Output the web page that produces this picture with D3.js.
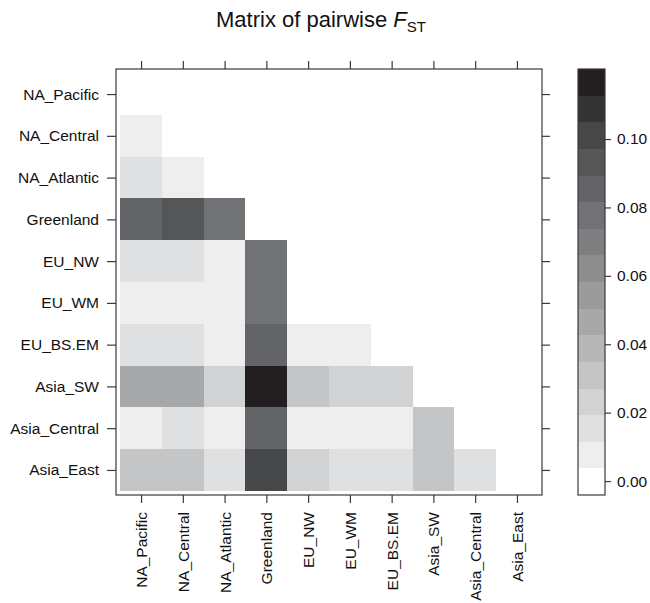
<!DOCTYPE html>
<html>
<head>
<meta charset="utf-8">
<script src="https://cdn.jsdelivr.net/npm/d3@7"></script>
<style>
  html, body { margin: 0; padding: 0; background: #fff; }
  svg { display: block; font-family: "Liberation Sans", Arial, Helvetica, sans-serif; }
</style>
</head>
<body>
<svg id="chart" width="650" height="603"></svg>
<script>
// Populations, in the order used for both axes
const populations = ["NA_Pacific", "NA_Central", "NA_Atlantic", "Greenland", "EU_NW",
                     "EU_WM", "EU_BS.EM", "Asia_SW", "Asia_Central", "Asia_East"];

// Lower triangle of pairwise FST: row i holds the values against populations 0..i-1
const fstNAPacific   = [];
const fstNACentral   = [0.007];
const fstNAAtlantic  = [0.015, 0.008];
const fstGreenland   = [0.085, 0.093, 0.077];
const fstEUNW        = [0.016, 0.015, 0.006, 0.078];
const fstEUWM        = [0.008, 0.007, 0.005, 0.077, 0.000];
const fstEUBSEM      = [0.014, 0.015, 0.007, 0.086, 0.006, 0.007];
const fstAsiaSW      = [0.046, 0.047, 0.023, 0.1164, 0.031, 0.024, 0.024];
const fstAsiaCentral = [0.008, 0.016, 0.007, 0.084, 0.006, 0.007, 0.008, 0.030];
const fstAsiaEast    = [0.030, 0.031, 0.016, 0.100, 0.023, 0.017, 0.016, 0.031, 0.015];
const fstRows = [fstNAPacific, fstNACentral, fstNAAtlantic, fstGreenland, fstEUNW,
                 fstEUWM, fstEUBSEM, fstAsiaSW, fstAsiaCentral, fstAsiaEast];

// Colour key tick labels
const keyTicks = [0.00, 0.02, 0.04, 0.06, 0.08, 0.10];

// Grey ramp, one shade per interval of the key (light to dark)
const shades = ["#ffffff", "#eeeeef", "#dfe0e2", "#d1d2d4", "#c4c5c7", "#b6b7b9",
                "#a7a8aa", "#9a9b9d", "#8c8d8f", "#7e7f81", "#717275", "#636467",
                "#555658", "#464749", "#343435", "#231f20"];

// Flatten the triangle into cells
const cells = [];
fstRows.forEach((row, i) => row.forEach((v, j) => cells.push({ row: i, col: j, value: v })));

// Breaks: data range padded slightly on each side, cut into equal intervals
const ext = d3.extent(cells, d => d.value);
const padZ = (ext[1] - ext[0]) * 0.035;
const zLo = ext[0] - padZ, zHi = ext[1] + padZ;
const nBands = shades.length;
const breaks = d3.range(nBands + 1).map(k => zLo + (zHi - zLo) * k / nBands);
const colour = d3.scaleThreshold().domain(breaks.slice(1, -1)).range(shades);

const svg = d3.select("#chart");
const font = 15.5;

// Panel geometry
const panel = { left: 116, right: 542, top: 69, bottom: 495 };
const n = populations.length;
const x = d3.scaleLinear().domain([0.4, n + 0.6]).range([panel.left, panel.right]);
const y = d3.scaleLinear().domain([0.4, n + 0.6]).range([panel.top, panel.bottom]);

// Cells
svg.append("g").selectAll("rect").data(cells).join("rect")
  .attr("x", d => x(d.col + 0.5))
  .attr("y", d => y(d.row + 0.5))
  .attr("width", d => x(d.col + 1.5) - x(d.col + 0.5))
  .attr("height", d => y(d.row + 1.5) - y(d.row + 0.5))
  .attr("fill", d => colour(d.value))
  .attr("shape-rendering", "crispEdges");

// Axes on all four sides
const tickVals = d3.range(1, n + 1);
const axisColour = "#3a3a3a";
function styleAxis(g) {
  g.selectAll(".domain").remove();
  g.selectAll(".tick line").attr("stroke", axisColour).attr("stroke-width", 1.2);
  g.selectAll("text").attr("fill", "#111").style("font-size", font + "px");
}

svg.append("g").attr("transform", `translate(${panel.left},0)`)
  .call(d3.axisLeft(y).tickValues(tickVals).tickFormat(i => populations[i - 1]).tickSize(9).tickPadding(8))
  .call(styleAxis);

svg.append("g").attr("transform", `translate(${panel.right},0)`)
  .call(d3.axisRight(y).tickValues(tickVals).tickFormat("").tickSize(8))
  .call(styleAxis);

svg.append("g").attr("transform", `translate(0,${panel.top})`)
  .call(d3.axisTop(x).tickValues(tickVals).tickFormat("").tickSize(8))
  .call(styleAxis);

const bottomAxis = svg.append("g").attr("transform", `translate(0,${panel.bottom})`)
  .call(d3.axisBottom(x).tickValues(tickVals).tickFormat(i => populations[i - 1]).tickSize(8))
  .call(styleAxis);
bottomAxis.selectAll("text")
  .attr("transform", "rotate(-90)")
  .attr("text-anchor", "end")
  .attr("x", -17)
  .attr("y", 0)
  .attr("dy", "0.35em");

// Panel frame
svg.append("rect")
  .attr("x", panel.left).attr("y", panel.top)
  .attr("width", panel.right - panel.left).attr("height", panel.bottom - panel.top)
  .attr("fill", "none").attr("stroke", axisColour).attr("stroke-width", 1.2);

// Colour key
const key = { left: 578, right: 605, top: 69, bottom: 495 };
const z = d3.scaleLinear().domain([zLo, zHi]).range([key.bottom, key.top]);
svg.append("g").selectAll("rect").data(d3.range(nBands)).join("rect")
  .attr("x", key.left)
  .attr("width", key.right - key.left)
  .attr("y", k => z(breaks[k + 1]))
  .attr("height", k => z(breaks[k]) - z(breaks[k + 1]))
  .attr("fill", k => shades[k])
  .attr("shape-rendering", "crispEdges");
svg.append("rect")
  .attr("x", key.left).attr("y", key.top)
  .attr("width", key.right - key.left).attr("height", key.bottom - key.top)
  .attr("fill", "none").attr("stroke", axisColour).attr("stroke-width", 1.2);
svg.append("g").attr("transform", `translate(${key.right},0)`)
  .call(d3.axisRight(z).tickValues(keyTicks).tickFormat(d3.format(".2f")).tickSize(6).tickPadding(6))
  .call(styleAxis);

// Title
const title = svg.append("text")
  .attr("x", 321).attr("y", 27)
  .attr("text-anchor", "middle")
  .attr("fill", "#111")
  .style("font-size", "22px");
title.append("tspan").text("Matrix of pairwise ");
title.append("tspan").text("F").style("font-style", "italic");
title.append("tspan").text("ST").attr("dy", 5).style("font-size", "15px");
</script>
</body>
</html>
